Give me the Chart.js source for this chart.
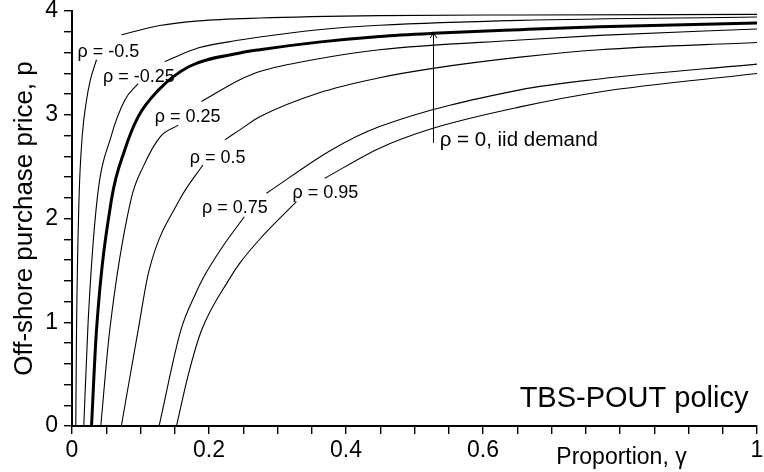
<!DOCTYPE html>
<html>
<head>
<meta charset="utf-8">
<script src="https://cdn.jsdelivr.net/npm/chart.js@4.4.1/dist/chart.umd.min.js"></script>
<style>
html,body{margin:0;padding:0;background:#fff;}
#wrap{width:764px;height:472px;position:relative;}
</style>
</head>
<body>
<div id="wrap"><canvas id="c"></canvas></div>
<script>
// ---- data (gamma = proportion, price = off-shore purchase price) ----
const rhoNames = ['ρ = -0.5', 'ρ = -0.25', 'ρ = 0', 'ρ = 0.25', 'ρ = 0.5', 'ρ = 0.75', 'ρ = 0.95'];

const gammaRhoNeg050 = [0.0055, 0.0066, 0.0102, 0.015, 0.0212, 0.027, 0.0358, 0.05, 0.0722, 0.128, 0.185, 0.274, 0.449, 0.654, 1];
const priceRhoNeg050 = [0, 0.92, 2.18, 2.80, 3.14, 3.34, 3.53, null, 3.771, 3.86, 3.905, 3.932, 3.955, 3.962, 3.967];

const gammaRhoNeg025 = [0.0172, 0.0235, 0.0366, 0.057, 0.077, 0.0965, 0.115, 0.1354, 0.185, 0.245, 0.274, 0.36, 0.449, 0.654, 1];
const priceRhoNeg025 = [0, 1.0, 2.18, 2.79, 3.14, 3.30, null, 3.513, 3.645, 3.72, 3.75, 3.82, 3.862, 3.91, 3.942];

const gammaRho000 = [0.0285, 0.0357, 0.0576, 0.077, 0.0965, 0.125, 0.171, 0.245, 0.274, 0.36, 0.449, 0.527, 0.654, 0.77, 1];
const priceRho000 = [0, 0.92, 2.18, 2.66, 2.98, 3.23, 3.465, 3.595, 3.627, 3.70, 3.755, 3.785, 3.82, 3.848, 3.884];

const gammaRho025 = [0.042, 0.055, 0.086, 0.104, 0.129, 0.155, 0.17, 0.189, 0.245, 0.274, 0.36, 0.449, 0.654, 0.77, 1];
const priceRho025 = [0, 0.92, 2.18, 2.5, 2.79, 2.90, null, 3.127, 3.337, 3.417, 3.54, 3.627, 3.72, 3.765, 3.826];

const gammaRho050 = [0.072, 0.0965, 0.1125, 0.157, 0.191, 0.207, 0.223, 0.245, 0.274, 0.36, 0.449, 0.527, 0.654, 0.77, 1];
const priceRho050 = [0, 0.922, 1.50, 2.18, 2.516, null, 2.758, 2.854, 2.98, 3.21, 3.357, 3.447, 3.555, 3.627, 3.697];

const gammaRho075 = [0.1271, 0.1588, 0.1807, 0.1909, 0.22, 0.2516, 0.268, 0.2839, 0.3787, 0.449, 0.654, 0.77, 1];
const priceRho075 = [0, 0.922, 1.28, 1.42, 1.73, 2.017, null, 2.243, 2.661, 2.886, 3.24, 3.345, 3.488];

const gammaRho095 = [0.1525, 0.170, 0.189, 0.2303, 0.245, 0.274, 0.3276, 0.348, 0.369, 0.449, 0.527, 0.654, 0.77, 1];
const priceRho095 = [0, 0.50, 0.92, 1.423, 1.57, 1.80, 2.162, null, 2.388, 2.678, 2.87, 3.076, 3.22, 3.397];

const xLabelValues = [0, 0.2, 0.4, 0.6, 1];      // 0.8 is covered by the axis title
const yLabelValues = [0, 1, 2, 3, 4];

// label anchors in data units: [text, gamma (left edge), price (baseline)]
const curveLabels = [
  ['ρ = -0.5', 0.008, 3.556],
  ['ρ = -0.25', 0.0454, 3.320],
  ['ρ = 0.25', 0.1208, 2.929],
  ['ρ = 0.5', 0.1719, 2.539],
  ['ρ = 0.75', 0.1899, 2.050],
  ['ρ = 0.95', 0.3218, 2.195]
];
const iidLabel = ['ρ = 0, iid demand', 0.5368, 2.695];
const arrowGamma = 0.527, arrowFrom = 2.73, arrowTo = 3.787;
const policyLabel = ['TBS-POUT policy', 0.6535, 0.183];
const xTitle = 'Proportion, γ';
const yTitle = 'Off-shore purchase price, p';

const FONT = "'Liberation Sans', Arial, Helvetica, sans-serif";

function pts(g, p) { return g.map((v, i) => ({x: v, y: p[i]})); }
const series = [
  [gammaRhoNeg050, priceRhoNeg050, 1.1],
  [gammaRhoNeg025, priceRhoNeg025, 1.1],
  [gammaRho000, priceRho000, 3],
  [gammaRho025, priceRho025, 1.1],
  [gammaRho050, priceRho050, 1.1],
  [gammaRho075, priceRho075, 1.1],
  [gammaRho095, priceRho095, 1.1]
];

const annot = {
  id: 'annot',
  afterDatasetsDraw(chart) {
    const {ctx} = chart;
    const xs = chart.scales.x, ys = chart.scales.y;
    ctx.save();
    ctx.fillStyle = '#000';
    ctx.strokeStyle = '#000';
    ctx.textAlign = 'left';
    ctx.textBaseline = 'alphabetic';
    ctx.font = '18px ' + FONT;
    curveLabels.forEach(([t, gx, py]) => {
      ctx.fillText(t, xs.getPixelForValue(gx), ys.getPixelForValue(py));
    });
    ctx.font = '20.5px ' + FONT;
    ctx.fillText(iidLabel[0], xs.getPixelForValue(iidLabel[1]), ys.getPixelForValue(iidLabel[2]));
    // arrow
    const ax = Math.round(xs.getPixelForValue(arrowGamma)) + 0.5;
    const a0 = ys.getPixelForValue(arrowFrom), a1 = ys.getPixelForValue(arrowTo);
    ctx.lineWidth = 1;
    ctx.beginPath();
    ctx.moveTo(ax, a0); ctx.lineTo(ax, a1);
    ctx.moveTo(ax - 3.5, a1 + 5); ctx.lineTo(ax, a1); ctx.lineTo(ax + 3.5, a1 + 5);
    ctx.stroke();
    // policy
    ctx.font = '29px ' + FONT;
    ctx.fillText(policyLabel[0], xs.getPixelForValue(policyLabel[1]), ys.getPixelForValue(policyLabel[2]));
    // x title
    ctx.font = '23px ' + FONT;
    ctx.fillText(xTitle, xs.getPixelForValue(0.707), ys.bottom + 38);
    // y title
    ctx.font = '26px ' + FONT;
    ctx.translate(32, (ys.top + ys.bottom) / 2);
    ctx.rotate(-Math.PI / 2);
    ctx.textAlign = 'center';
    ctx.fillText(yTitle, 0, 0);
    ctx.restore();
  }
};

function near(v, arr) { return arr.some(a => Math.abs(a - v) < 1e-6); }

new Chart(document.getElementById('c'), {
  type: 'line',
  data: {
    datasets: series.map((s, i) => ({
      label: rhoNames[i],
      data: pts(s[0], s[1]),
      borderColor: '#000',
      borderWidth: s[2],
      pointRadius: 0,
      fill: false,
      spanGaps: false,
      cubicInterpolationMode: 'monotone'
    }))
  },
  options: {
    responsive: true,
    maintainAspectRatio: false,
    animation: false,
    events: [],
    layout: {padding: {top: 11, right: 7, left: 0, bottom: 0}},
    plugins: {legend: {display: false}, tooltip: {enabled: false}},
    scales: {
      x: {
        type: 'linear', min: 0, max: 1,
        afterFit(s) { s.height = 46; s.paddingLeft = 0; s.paddingRight = 0; },
        ticks: {
          stepSize: 0.05, autoSkip: false, maxRotation: 0, minRotation: 0, maxTicksLimit: 50,
          padding: 3, color: '#000', font: {family: FONT, size: 23},
          callback: v => near(v, xLabelValues) ? String(Math.round(v * 10) / 10) : ''
        },
        grid: {drawOnChartArea: false, drawTicks: true, tickLength: 8, color: '#000', lineWidth: 1.4},
        border: {display: true, color: '#000', width: 2}
      },
      y: {
        type: 'linear', min: 0, max: 4,
        afterFit(s) { s.width = 72; s.paddingTop = 0; s.paddingBottom = 0; },
        ticks: {
          stepSize: 0.2, autoSkip: false, maxTicksLimit: 50,
          padding: 6, color: '#000', font: {family: FONT, size: 23},
          callback: v => near(v, yLabelValues) ? String(Math.round(v)) : ''
        },
        grid: {drawOnChartArea: false, drawTicks: true, tickLength: 8, color: '#000', lineWidth: 1.4},
        border: {display: true, color: '#000', width: 2}
      }
    }
  },
  plugins: [annot]
});
</script>
</body>
</html>
